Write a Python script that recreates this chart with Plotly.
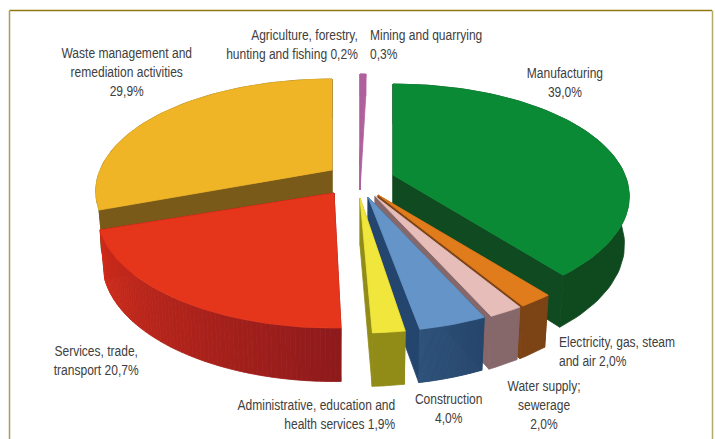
import json
import math
import plotly.graph_objects as go

# ---- data (percent) ----
categories = ["Manufacturing", "Electricity, gas, steam and air", "Water supply; sewerage",
              "Construction", "Administrative, education and health services",
              "Services, trade, transport",
              "Waste management and remediation activities",
              "Agriculture, forestry, hunting and fishing", "Mining and quarrying"]
values = [39.0, 2.0, 2.0, 4.0, 1.9, 20.7, 29.9, 0.2, 0.3]
label_templates = ["Manufacturing<br>{}%", "Electricity, gas, steam<br>and air {}%",
                   "Water supply;<br>sewerage<br>{}%", "Construction<br>{}%",
                   "Administrative, education and<br>health services {}%",
                   "Services, trade,<br>transport {}%",
                   "Waste management and<br>remediation activities<br>{}%",
                   "Agriculture, forestry,<br>hunting and fishing {}%", "Mining and quarrying<br>{}%"]

# ---- styling of the slices ----
top_colors = ["#0b8a36", "#e07c1c", "#e6bdb9", "#6595c8", "#f0e63c", "#e5351a", "#efb526", "#b0609c", "#b0609c"]
wall_from = ["#0f4a1e", "#7c4315", "#86686a", "#2c5078", "#918c18", "#d02c1a", "#7a5a18", "#b0609c", "#b0609c"]
wall_to = ["#0f4a1e", "#7c4315", "#86686a", "#27466c", "#918c18", "#8e1a1c", "#7a5a18", "#b0609c", "#b0609c"]
cut_colors = ["#0f4a20", "#7c4315", "#86686a", "#24466e", "#918c18", "#8e1a1c", "#7a5a18", "#b0609c", "#b0609c"]
# apex of each exploded slice on the page
apex = [(393, 175), (378, 195), (375, 196), (368, 197), (360, 198), (334, 193), (332, 170), (360, 165), (360, 165)]
# small drawing corrections of each slice edge, in degrees (perspective of the original)
start_adj = [0, 0, 0, 0, 1.4, 2.5, 0, 1.8, 1.8]
end_adj = [0, 0, 0, 0, 1.4, 1.5, 1.8, 1.8, 1.8]
thickness = [47, 47, 47, 47, 47, 47, 47, 25, 25]
# painter's order, back to front
order = [6, 7, 8, 0, 1, 2, 3, 4, 5]
label_pos = [(565, 82.5, "center"), (557, 351.5, "left"), (544, 405, "center"), (448, 408.5, "center"),
             (397, 414.5, "right"), (96, 360.5, "center"), (126, 72, "center"), (360, 44.5, "right"),
             (368, 44.5, "left")]
TEXT_SQUEEZE = 0.83

RX, RY, PERSP = 232.0, 113.0, 0.195
SHRINK = 0.98


def project(apx, theta, thick=None):
    u, v = math.sin(theta), -math.cos(theta)
    s = 1 + PERSP * v
    x, y = RX * u * s, RY * v * s
    if thick is not None:
        return apx[0] + x * SHRINK, apx[1] + y * SHRINK + thick * s
    return apx[0] + x, apx[1] + y


def mix(c1, c2, t):
    a = [int(c1[i:i + 2], 16) for i in (1, 3, 5)]
    b = [int(c2[i:i + 2], 16) for i in (1, 3, 5)]
    return "rgb({},{},{})".format(*[round(p + (q - p) * t) for p, q in zip(a, b)])


def poly(pts, color):
    return go.Scatter(x=[p[0] for p in pts] + [pts[0][0]], y=[p[1] for p in pts] + [pts[0][1]],
                      mode="lines", fill="toself", fillcolor=color, line=dict(color=color, width=0.8),
                      hoverinfo="skip", showlegend=False)


total = sum(values)
starts, acc = [], 0.0
for val in values:
    starts.append(acc / total * 2 * math.pi)
    acc += val

fig = go.Figure()
for i in order:
    a0 = starts[i] + math.radians(start_adj[i])
    a1 = starts[i] + values[i] / total * 2 * math.pi + math.radians(end_adj[i])
    apx = apex[i]
    T = thickness[i]
    bottom_apex = (apx[0], apx[1] + T)
    # cut walls
    for a in (a0, a1):
        fig.add_trace(poly([apx, project(apx, a), project(apx, a, T), bottom_apex], cut_colors[i]))
    # outer wall, in gradient strips where the colour changes
    n = 70 if wall_from[i] != wall_to[i] else 1
    arcs = max(2, int(values[i] * 2))
    for k in range(n):
        b0 = a0 + (a1 - a0) * k / n
        b1 = a0 + (a1 - a0) * (k + 1) / n
        c = mix(wall_to[i], wall_from[i], (k + 0.5) / n)
        steps = max(1, arcs // n)
        up = [project(apx, b0 + (b1 - b0) * j / steps) for j in range(steps + 1)]
        lo = [project(apx, b0 + (b1 - b0) * j / steps, T) for j in range(steps + 1)]
        fig.add_trace(poly(up + lo[::-1], c))
    # top face
    m = max(2, int(values[i] * 2))
    arc = [project(apx, a0 + (a1 - a0) * k / m) for k in range(m + 1)]
    fig.add_trace(poly([apx] + arc, top_colors[i]))

annotations = []
for tpl, val, (x, y, al) in zip(label_templates, values, label_pos):
    annotations.append(dict(x=x, y=y, xref="x", yref="y", text=tpl.format(f"{val:.1f}".replace(".", ",")),
                            showarrow=False, align=al, xanchor=al, yanchor="middle",
                            font=dict(family="Liberation Sans", size=14.5, color="#404040")))

frame = [dict(x0=9.5, x1=712, y0=10.5, y1=10.5, color="#8d7a10"),
         dict(x0=9.5, x1=9.5, y0=10.5, y1=439, color="#a89c5c"),
         dict(x0=712.5, x1=712.5, y0=10.5, y1=439, color="#b5aa6c")]
shapes = [dict(type="line", xref="x", yref="y", x0=f["x0"], x1=f["x1"], y0=f["y0"], y1=f["y1"],
               line=dict(color=f["color"], width=1.5)) for f in frame]

fig.update_layout(width=715, height=439, autosize=False, margin=dict(l=0, r=0, t=0, b=0),
                  paper_bgcolor="white", plot_bgcolor="white", showlegend=False,
                  annotations=annotations, shapes=shapes,
                  xaxis=dict(range=[0, 715], visible=False, fixedrange=True),
                  yaxis=dict(range=[439, 0], visible=False, fixedrange=True))

# the original type is a condensed face: narrow the real text horizontally around its anchor
post = """
document.body.style.margin='0';document.body.style.overflow='hidden';
var aligns=%s, sq=%s;
document.querySelectorAll('.annotation-text').forEach(function(t,i){
  var b=t.getBBox(), al=aligns[i];
  var ox = al==='left' ? b.x : (al==='right' ? b.x+b.width : b.x+b.width/2);
  t.setAttribute('transform','translate('+ox+',0) scale('+sq+',1) translate('+(-ox)+',0)');
});
""" % (json.dumps([p[2] for p in label_pos]), TEXT_SQUEEZE)
fig.write_html("out.html", config={"displayModeBar": False}, post_script=post)
